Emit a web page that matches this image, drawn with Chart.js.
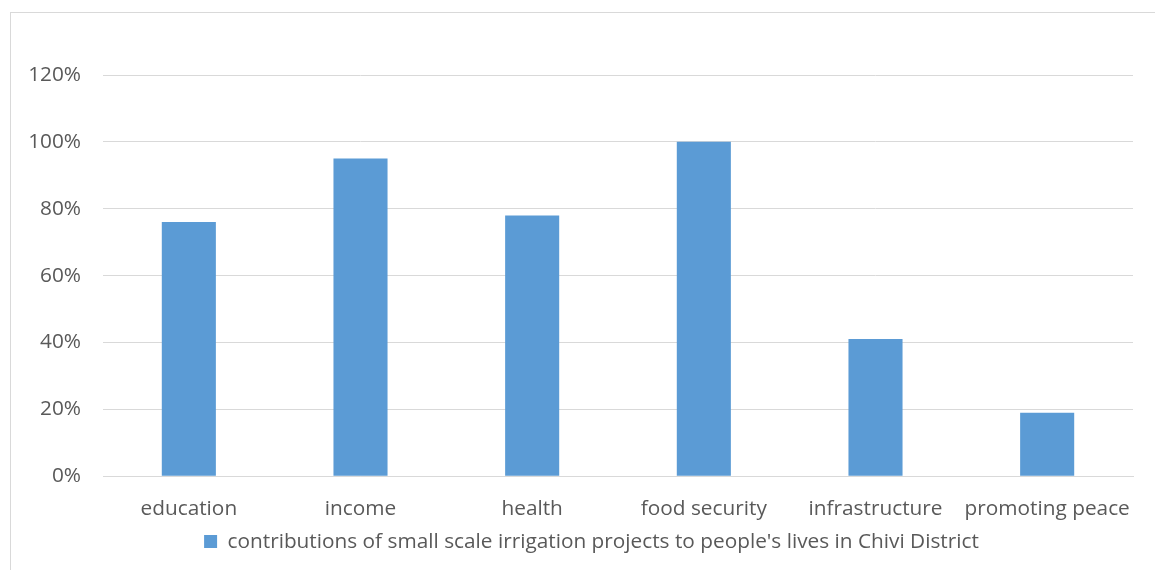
<!DOCTYPE html>
<html>
<head>
<meta charset="utf-8">
<script src="https://cdn.jsdelivr.net/npm/chart.js@4"></script>
<style>
  html, body { margin: 0; padding: 0; background: #fff; }
  #frame {
    position: absolute; left: 10px; top: 12px;
    width: 1145px; height: 558px;
    border-left: 1px solid #d9d9d9; border-top: 1px solid #d9d9d9;
  }
  #wrap { position: absolute; left: 0; top: 0; width: 1155px; height: 570px; }
</style>
</head>
<body>
<div id="frame"></div>
<div id="wrap"><canvas id="grafica" width="1155" height="570"></canvas></div>
<script>
const categories = ['education', 'income', 'health', 'food security', 'infrastructure', 'promoting peace'];
const contributions = [76, 95, 78, 100, 41, 19];
const seriesLabel = "contributions of small scale irrigation projects to people's lives in Chivi District";

const txt = '#595959';
const fam = "'Open Sans', 'Liberation Sans', sans-serif";
const fsize = 20.8;

// nudge the centred legend a little to the right
const legendShift = {
  id: 'legendShift',
  afterLayout(chart) {
    if (chart.legend) chart.legend.left += 50;
  }
};

const ctx = document.getElementById('grafica');
new Chart(ctx, {
  type: 'bar',
  data: {
    labels: categories,
    datasets: [{
      label: seriesLabel,
      data: contributions,
      backgroundColor: '#5b9bd5',
      categoryPercentage: 1,
      barPercentage: 0.315
    }]
  },
  plugins: [legendShift],
  options: {
    responsive: false,
    animation: false,
    layout: { padding: { top: 75, right: 22, bottom: 8, left: 0 } },
    plugins: {
      tooltip: { enabled: false },
      legend: {
        position: 'bottom',
        labels: {
          color: txt,
          font: { family: fam, size: fsize },
          boxWidth: 13,
          boxHeight: 13,
          padding: 2
        }
      }
    },
    scales: {
      x: {
        // fixed height so the category labels sit midway between axis and legend
        afterFit(scale) { scale.height = 53; },
        grid: { display: false, drawTicks: false },
        border: { color: '#d9d9d9', width: 1 },
        ticks: { color: txt, font: { family: fam, size: fsize, lineHeight: 1 }, padding: 22, maxRotation: 0 }
      },
      y: {
        min: 0,
        max: 120,
        afterFit(scale) { scale.width = 103; },
        grid: { color: '#d9d9d9', drawTicks: false },
        border: { display: false },
        ticks: {
          stepSize: 20,
          color: txt,
          padding: 22,
          font: { family: fam, size: fsize },
          callback: v => v + '%'
        }
      }
    }
  }
});
</script>
</body>
</html>
